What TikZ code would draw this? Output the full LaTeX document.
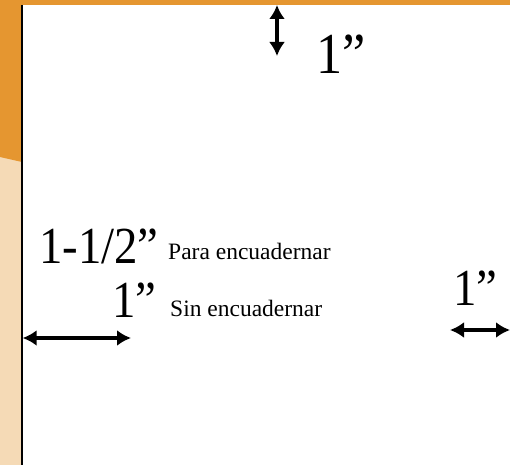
\documentclass[tikz,border=0pt]{standalone}
\usepackage{fontspec}
\setmainfont{Liberation Serif}
\usetikzlibrary{arrows.meta}
\definecolor{orangeband}{RGB}{229,150,48}
\definecolor{peach}{RGB}{245,218,182}
\tikzset{
  dim/.style={line width=3.4pt, {Latex[length=14pt,width=16pt]}-{Latex[length=14pt,width=16pt]}},
  big/.style={anchor=base west, inner sep=0pt, xscale=0.9, font=\fontsize{52}{52}\selectfont},
  small/.style={anchor=base west, inner sep=0pt, font=\fontsize{23.5}{23.5}\selectfont},
}
\begin{document}
\begin{tikzpicture}[x=1pt,y=-1pt]
\useasboundingbox (0,0) rectangle (510,465);
% background
\fill[white] (0,0) rectangle (510,465);
\fill[peach] (0,150) rectangle (22,465);
\fill[orangeband] (0,0) rectangle (510,5);
\fill[orangeband] (0,0) -- (22,0) -- (22,162) -- (0,157) -- cycle;
\draw[line width=1.4pt] (22,5) -- (22,465);
% labels
\node[big, font=\fontsize{58}{58}\selectfont] (t1) at (316,74) {1”};
\node[big] (l1) at (39,263) {1-1/2”};
\node[small] (l1t) at (168,259) {Para encuadernar};
\node[big] (l2) at (112,317) {1”};
\node[small] (l2t) at (170,316) {Sin encuadernar};
\node[big] (r1) at (453,305) {1”};
% arrows
\coordinate (ta) at (277,5);
\coordinate (tb) at (277,56);
\draw[dim] (ta) -- (tb);
\coordinate (la) at (22.7,338);
\coordinate (lb) at (131,338);
\draw[dim] (la) -- (lb);
\coordinate (ra) at (450,330);
\coordinate (rb) at (510,330);
\draw[dim] (ra) -- (rb);
\end{tikzpicture}
\end{document}
